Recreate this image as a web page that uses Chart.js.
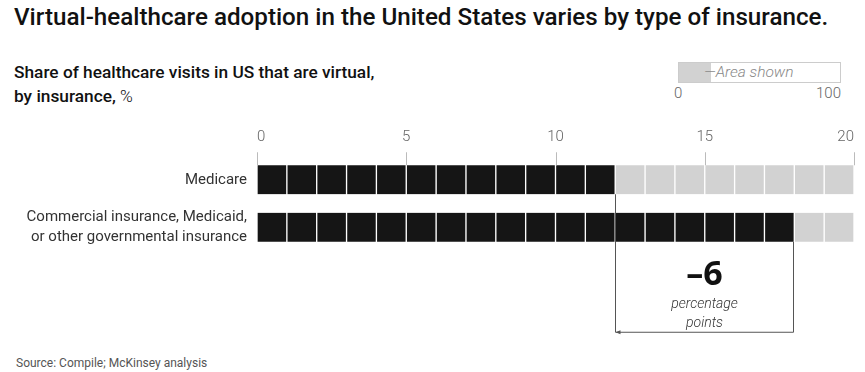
<!DOCTYPE html>
<html>
<head>
<meta charset="utf-8">
<script src="https://cdn.jsdelivr.net/npm/chart.js@4"></script>
<style>
  html, body { margin: 0; padding: 0; background: #fff; }
  body { width: 865px; height: 372px; position: relative; overflow: hidden; font-family: Roboto, "Noto Sans", sans-serif; }
  #chart { position: absolute; left: 0; top: 0; }
  .title { position: absolute; left: 14px; top: 3px; font-size: 24.2px; font-weight: 500; color: #111; white-space: nowrap; }
  .sub { position: absolute; left: 14px; top: 60px; font-size: 17.3px; font-weight: 500; color: #111; line-height: 24px; }
  .sub span { font-weight: 300; }
  .inset { position: absolute; left: 678px; top: 62px; width: 161px; height: 19px; border: 1px solid #ccc; }
  .inset .fill { position: absolute; left: 0; top: 0; bottom: 0; background: #d2d2d2; }
  .inset .lbl { position: absolute; left: 25px; top: 0px; font-size: 15.5px; font-style: italic; font-weight: 300; color: #888; white-space: nowrap; line-height: 19px; }
  .inset-tick { position: absolute; top: 84px; font-size: 15px; font-weight: 300; color: #666; }
  .source { position: absolute; left: 16px; top: 356px; font-size: 12px; color: #555; }
</style>
</head>
<body>
<div class="title">Virtual-healthcare adoption in the United States varies by type of insurance.</div>
<div class="sub">Share of healthcare visits in US that are virtual,<br>by insurance, <span>%</span></div>
<div class="inset"><div class="fill" id="insetFill"></div><div class="lbl">—Area shown</div></div>
<div class="inset-tick" style="left:674px">0</div>
<div class="inset-tick" style="left:816px">100</div>
<div class="source">Source: Compile; McKinsey analysis</div>
<canvas id="chart" width="865" height="372"></canvas>
<script>
// --- DATA ---
const categories = [
  ['Medicare'],
  ['Commercial insurance, Medicaid,', 'or other governmental insurance']
];
const virtualShare = [12, 18];      // % of visits that are virtual
const axisMax = 20;                 // area shown, of 0–100
const fullScale = 100;
const xTicks = [0, 5, 10, 15, 20];

const BLACK = '#151515';
const GREY = '#d2d2d2';

document.getElementById('insetFill').style.width = (axisMax / fullScale * 100) + '%';

// one stacked dataset per unit square
const unitSets = [];
for (let u = 0; u < axisMax; u++) {
  unitSets.push({
    data: categories.map(() => 1),
    backgroundColor: c => (u < virtualShare[c.dataIndex] ? BLACK : GREY),
    borderColor: '#fff',
    borderWidth: { left: 1, right: 1, top: 0, bottom: 0 },
    borderSkipped: false,
    barThickness: 29
  });
}

// tick marks above bars + gap bracket
const extras = {
  id: 'extras',
  afterDatasetsDraw(chart) {
    const { ctx } = chart;
    const x = chart.scales.x;
    const bars = chart.getDatasetMeta(0).data;
    const top0 = bars[0].y - bars[0].height / 2;
    ctx.save();
    ctx.strokeStyle = '#bbb';
    ctx.lineWidth = 1;
    xTicks.forEach(v => {
      const px = Math.round(x.getPixelForValue(v)) + 0.5;
      ctx.beginPath();
      ctx.moveTo(px, top0 - 13);
      ctx.lineTo(px, top0);
      ctx.stroke();
    });

    // bracket between the two bar ends
    const a = Math.round(x.getPixelForValue(virtualShare[0])) + 0.5;
    const b = Math.round(x.getPixelForValue(virtualShare[1])) - 0.5;
    const bot0 = bars[0].y + bars[0].height / 2;
    const bot1 = bars[1].y + bars[1].height / 2;
    const yLine = bot1 + 90.5;
    ctx.strokeStyle = '#555';
    ctx.beginPath();
    ctx.moveTo(a, bot0);
    ctx.lineTo(a, yLine);
    ctx.lineTo(b, yLine);
    ctx.lineTo(b, bot1);
    ctx.stroke();
    // small arrow head at left
    ctx.fillStyle = '#555';
    ctx.beginPath();
    ctx.moveTo(a, yLine);
    ctx.lineTo(a + 5, yLine - 2);
    ctx.lineTo(a + 5, yLine + 2);
    ctx.closePath();
    ctx.fill();

    const mid = (a + b) / 2;
    const diff = virtualShare[0] - virtualShare[1];
    ctx.textAlign = 'center';
    ctx.textBaseline = 'alphabetic';
    ctx.fillStyle = '#111';
    ctx.font = '700 34px "Noto Sans"';
    ctx.fillText((diff < 0 ? '–' : '+') + Math.abs(diff), mid, bot1 + 43);
    ctx.fillStyle = '#333';
    ctx.font = 'italic 300 14px Roboto';
    ctx.fillText('percentage', mid, bot1 + 66);
    ctx.fillText('points', mid, bot1 + 85);
    ctx.restore();
  }
};

new Chart(document.getElementById('chart'), {
  type: 'bar',
  data: { labels: categories, datasets: unitSets },
  options: {
    indexAxis: 'y',
    responsive: false,
    animation: false,
    events: [],
    layout: { padding: { top: 118, right: 11, bottom: 121, left: 0 } },
    plugins: { legend: { display: false }, tooltip: { enabled: false } },
    scales: {
      x: {
        position: 'top', stacked: true, min: 0, max: axisMax,
        afterBuildTicks: s => { s.ticks = xTicks.map(v => ({ value: v })); },
        afterFit: s => { s.paddingLeft = 0; s.paddingRight = 0; },
        grid: { display: false, drawTicks: false },
        border: { display: false },
        ticks: { padding: 10, align: 'inner', color: '#666', font: { family: 'Roboto', size: 15, weight: 300 } }
      },
      y: {
        stacked: true,
        afterFit: s => { s.width = 257; },
        grid: { display: false, drawTicks: false },
        border: { display: false },
        ticks: { padding: 10, color: '#333', font: { family: 'Roboto', size: 15, lineHeight: 1.27 } }
      }
    }
  },
  plugins: [extras]
});
</script>
</body>
</html>
